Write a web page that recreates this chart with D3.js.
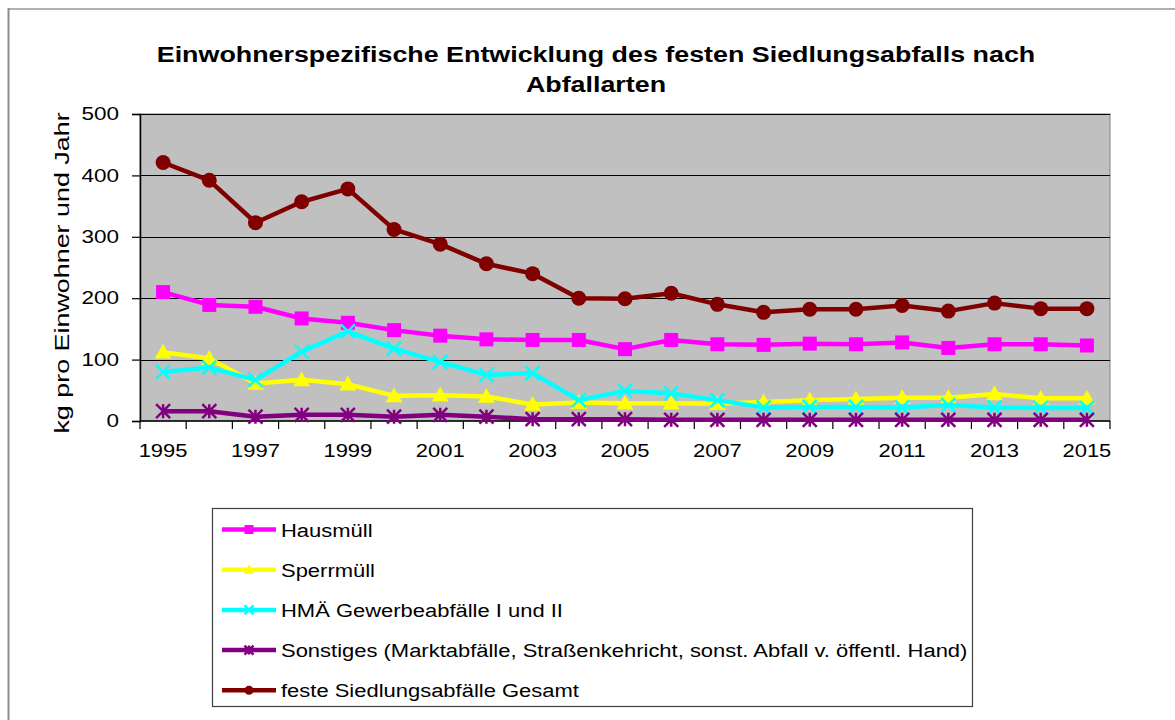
<!DOCTYPE html>
<html><head><meta charset="utf-8">
<script src="https://cdn.jsdelivr.net/npm/d3@7"></script>
<style>body{margin:0;background:#fff;} svg{display:block;font-family:Arial,"Liberation Sans",sans-serif;}</style>
</head><body>
<svg id="c" width="1175" height="720"></svg>
<script>
const years = [1995,1996,1997,1998,1999,2000,2001,2002,2003,2004,2005,2006,2007,2008,2009,2010,2011,2012,2013,2014,2015];
const hausmuell = [210,189,186,167,160,148,139,133,132,132,117,132,125,124,126,125,128,119,125,125,123];
const sperrmuell = [112,102,61,67,60,41,42,40,27,30,29,29,28,31,34,36,38,38,44,37,37];
const hmae = [80,87,67,113,146,118,96,75,78,34,49,45,34,22,23,23,22,26,22,21,21];
const sonstiges = [16,16,7,10,10,7,10,7,3,3,3,2,2,2,2,2,2,2,2,2,2];
const gesamt = [421,392,323,357,378,312,288,256,240,200,199,208,190,177,182,182,188,179,192,183,183];
const yTicks = [0,100,200,300,400,500];
const xLabelYears = [1995,1997,1999,2001,2003,2005,2007,2009,2011,2013,2015];
const seriesNames = ["Hausmüll","Sperrmüll","HMÄ Gewerbeabfälle I und II","Sonstiges (Marktabfälle, Straßenkehricht, sonst. Abfall v. öffentl. Hand)","feste Siedlungsabfälle Gesamt"];
const seriesColors = ["#ff00ff","#ffff00","#00ffff","#800080","#800000"];
const seriesMarkers = ["square","triangle","x","asterisk","circle"];
const seriesData = [hausmuell,sperrmuell,hmae,sonstiges,gesamt];
const titleLines = ["Einwohnerspezifische Entwicklung des festen Siedlungsabfalls nach","Abfallarten"];
const yTitle = "kg pro Einwohner und Jahr";

const svg = d3.select("#c");
function stretch(sel,k){
  sel.each(function(){
    const len=this.getComputedTextLength();
    d3.select(this).attr("textLength",len*k).attr("lengthAdjust","spacingAndGlyphs");
  });
}
// outer frame
svg.append("line").attr("x1",8).attr("x2",1175).attr("y1",9).attr("y2",9).attr("stroke","#b0b0b0").attr("stroke-width",2);
svg.append("line").attr("x1",8.5).attr("x2",8.5).attr("y1",8).attr("y2",720).attr("stroke","#8c8c8c").attr("stroke-width",2);

const L=140,R=1110,T=114,B=421;
const x = d3.scaleBand().domain(years).range([L,R]);
const y = d3.scaleLinear().domain([0,500]).range([B,T]);

svg.append("rect").attr("x",L).attr("y",T).attr("width",R-L).attr("height",B-T).attr("fill","#c0c0c0").attr("stroke","#808080").attr("stroke-width",1);

// gridlines
svg.append("g").selectAll("line").data(yTicks.filter(d=>d>0)).join("line")
  .attr("x1",L).attr("x2",R).attr("y1",d=>Math.round(y(d))+0.5).attr("y2",d=>Math.round(y(d))+0.5)
  .attr("stroke","#000").attr("stroke-width",1.2);

// y axis
const yAxis = d3.axisLeft(y).tickValues(yTicks).tickSize(8).tickPadding(6);
const gy = svg.append("g").attr("transform",`translate(${L},0)`).call(yAxis);
gy.select(".domain").attr("stroke","#000").attr("stroke-width",1.5);
gy.selectAll(".tick line").attr("stroke","#000").attr("stroke-width",1.2);
gy.selectAll("text").attr("font-size",18).attr("fill","#000").attr("font-family","Arial,'Liberation Sans',sans-serif").attr("dx",-7);
stretch(gy.selectAll("text"),1.25);

// x axis: ticks at band boundaries
const gx = svg.append("g").attr("transform",`translate(0,${B})`);
gx.append("line").attr("x1",L).attr("x2",R).attr("y1",0).attr("y2",0).attr("stroke","#000").attr("stroke-width",1.5);
const bounds = years.map(d=>x(d)).concat([R]);
gx.selectAll("line.tk").data(bounds).join("line").attr("class","tk")
  .attr("x1",d=>d).attr("x2",d=>d).attr("y1",0).attr("y2",8).attr("stroke","#000").attr("stroke-width",1.2);
const xl = gx.selectAll("text").data(xLabelYears).join("text")
  .attr("x",d=>x(d)+x.bandwidth()/2).attr("y",36).attr("text-anchor","middle")
  .attr("font-size",18).attr("fill","#000").text(d=>d);
stretch(xl,1.22);

// y title
const yt = svg.append("text").attr("transform",`translate(69,273) rotate(-90)`).attr("text-anchor","middle")
  .attr("font-size",21).attr("fill","#000").text(yTitle);
stretch(yt,1.28);

// title
const tt = svg.selectAll("text.title").data(titleLines).join("text").attr("class","title")
  .attr("x",596).attr("y",(d,i)=>62+i*30).attr("text-anchor","middle")
  .attr("font-size",22).attr("font-weight","bold").attr("fill","#000").text(d=>d);
stretch(tt,1.22);

function drawMarker(g, type, color, cx, cy, s){
  if(type==="square"){
    g.append("rect").attr("x",cx-s/2).attr("y",cy-s/2).attr("width",s).attr("height",s).attr("fill",color);
  } else if(type==="circle"){
    g.append("circle").attr("cx",cx).attr("cy",cy).attr("r",s/2).attr("fill",color);
  } else if(type==="triangle"){
    g.append("path").attr("d",`M${cx},${cy-s*0.6}L${cx+s*0.6},${cy+s*0.45}L${cx-s*0.6},${cy+s*0.45}Z`).attr("fill",color);
  } else if(type==="x"){
    const h=s/2;
    g.append("path").attr("d",`M${cx-h},${cy-h}L${cx+h},${cy+h}M${cx-h},${cy+h}L${cx+h},${cy-h}`).attr("stroke",color).attr("stroke-width",2.5);
  } else if(type==="asterisk"){
    const h=s/2;
    g.append("path").attr("d",`M${cx-h},${cy-h}L${cx+h},${cy+h}M${cx-h},${cy+h}L${cx+h},${cy-h}M${cx},${cy-h}L${cx},${cy+h}`).attr("stroke",color).attr("stroke-width",2.5);
  }
}

const line = d3.line().x((d,i)=>x(years[i])+x.bandwidth()/2).y(d=>y(d));
const markerSize = [14,14,14,14,15];
seriesData.forEach((data,si)=>{
  const g = svg.append("g");
  g.append("path").datum(data).attr("d",line).attr("fill","none").attr("stroke",seriesColors[si]).attr("stroke-width",4.5).attr("stroke-linejoin","round");
  data.forEach((v,i)=>drawMarker(g,seriesMarkers[si],seriesColors[si],x(years[i])+x.bandwidth()/2,y(v),markerSize[si]));
});

// legend
const lg = svg.append("g");
lg.append("rect").attr("x",212.5).attr("y",508.5).attr("width",760).attr("height",198).attr("fill","#fff").attr("stroke","#404040").attr("stroke-width",1.2);
seriesNames.forEach((n,i)=>{
  const cy = 529.5+i*40.2;
  lg.append("line").attr("x1",222).attr("x2",276).attr("y1",cy).attr("y2",cy).attr("stroke",seriesColors[i]).attr("stroke-width",4.5);
  drawMarker(lg,seriesMarkers[i],seriesColors[i],249,cy,9);
  const t = lg.append("text").attr("x",281).attr("y",cy+7).attr("font-size",18).attr("fill","#000").text(n);
  stretch(t,1.22);
});
</script>
</body></html>
